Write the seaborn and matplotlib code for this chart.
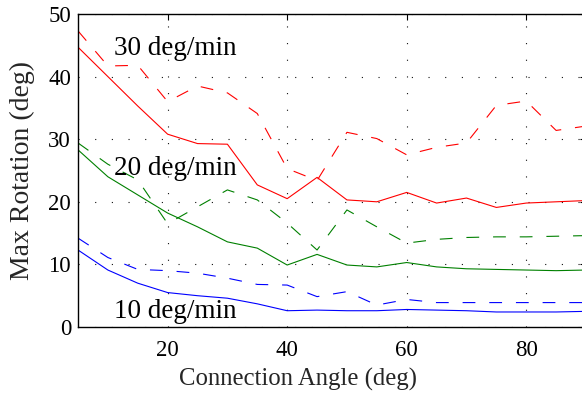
import matplotlib
matplotlib.use("Agg")
import matplotlib.pyplot as plt
import seaborn as sns
import pandas as pd

# Connection angles (deg)
angle = [5, 10, 15, 20, 25, 30, 35, 40, 45, 50, 55, 60, 65, 70, 75, 80, 85, 90]

# Max rotation (deg) for each rotation rate; solid and dashed variants
rate30_solid = [44.7, 40.0, 35.3, 30.8, 29.3, 29.2, 22.7, 20.5, 23.9, 20.3, 20.0, 21.5, 19.8, 20.6, 19.1, 19.8, 20.0, 20.2]
rate30_dash = [47.3, 41.7, 41.8, 36.0, 38.5, 37.4, 34.1, 25.3, 23.4, 31.1, 30.1, 27.5, 28.7, 29.4, 35.4, 36.1, 31.4, 32.1]
rate20_solid = [28.3, 24.0, 21.1, 18.2, 16.0, 13.6, 12.6, 9.9, 11.6, 9.9, 9.6, 10.3, 9.6, 9.3, 9.2, 9.1, 9.0, 9.1]
rate20_dash = [29.4, 26.0, 23.5, 16.5, 19.2, 21.9, 20.3, 16.6, 12.3, 18.7, 16.0, 13.4, 14.0, 14.3, 14.4, 14.4, 14.5, 14.6]
rate10_solid = [12.3, 9.1, 7.0, 5.5, 5.0, 4.6, 3.7, 2.6, 2.7, 2.6, 2.6, 2.8, 2.7, 2.6, 2.4, 2.4, 2.4, 2.5]
rate10_dash = [14.2, 11.1, 9.2, 9.0, 8.6, 7.8, 6.8, 6.7, 4.85, 5.65, 3.5, 4.4, 3.9, 3.9, 3.9, 3.9, 3.9, 3.9]

rate_labels = ["30 deg/min", "20 deg/min", "10 deg/min"]
label_pos = [(11.0, 43.5), (11.0, 24.3), (11.0, 1.5)]

sns.set_style("white")
plt.rcParams["font.family"] = ["Liberation Serif", "DejaVu Serif"]
plt.rcParams["mathtext.fontset"] = "stix"

fig = plt.figure(figsize=(5.82, 3.94), dpi=100)
ax = fig.add_axes([78 / 582, 67 / 394, 508 / 582, 313 / 394])

dash = (0, (11.5, 12.5))
series = [
    (rate30_solid, "#ff0000", "-"),
    (rate30_dash, "#ff0000", dash),
    (rate20_solid, "#008000", "-"),
    (rate20_dash, "#008000", dash),
    (rate10_solid, "#0000ff", "-"),
    (rate10_dash, "#0000ff", dash),
]
for values, color, style in series:
    df = pd.DataFrame({"angle": angle, "rot": values})
    sns.lineplot(data=df, x="angle", y="rot", color=color, linewidth=0.8,
                 linestyle=style, ax=ax, errorbar=None)

for text, (tx, ty) in zip(rate_labels, label_pos):
    ax.text(tx, ty, text, fontsize=19.5, va="baseline", ha="left", color="black")

ax.set_xlim(5, 90)
ax.set_ylim(0, 50)
ax.set_xticks([20, 40, 60, 80])
ax.set_yticks([0, 10, 20, 30, 40, 50])
ax.grid(True, color="#111111", linestyle=(0, (1, 14)), linewidth=0.8)
ax.tick_params(direction="in", length=4, width=0.8, top=True, right=True,
               labelsize=16.5, colors="black")
ax.tick_params(axis="x", pad=9)
ax.tick_params(axis="y", pad=5)
for sp in ax.spines.values():
    sp.set_color("black")
    sp.set_linewidth(1.0)

ax.set_xlabel("Connection Angle (deg)", fontsize=17.8)
ax.set_ylabel("Max Rotation (deg)", fontsize=20)
ax.xaxis.set_label_coords(220 / 508, -41 / 313, transform=ax.transAxes)
ax.yaxis.set_label_coords(-43 / 508, 0.5, transform=ax.transAxes)

fig.savefig("out.png", dpi=100)
